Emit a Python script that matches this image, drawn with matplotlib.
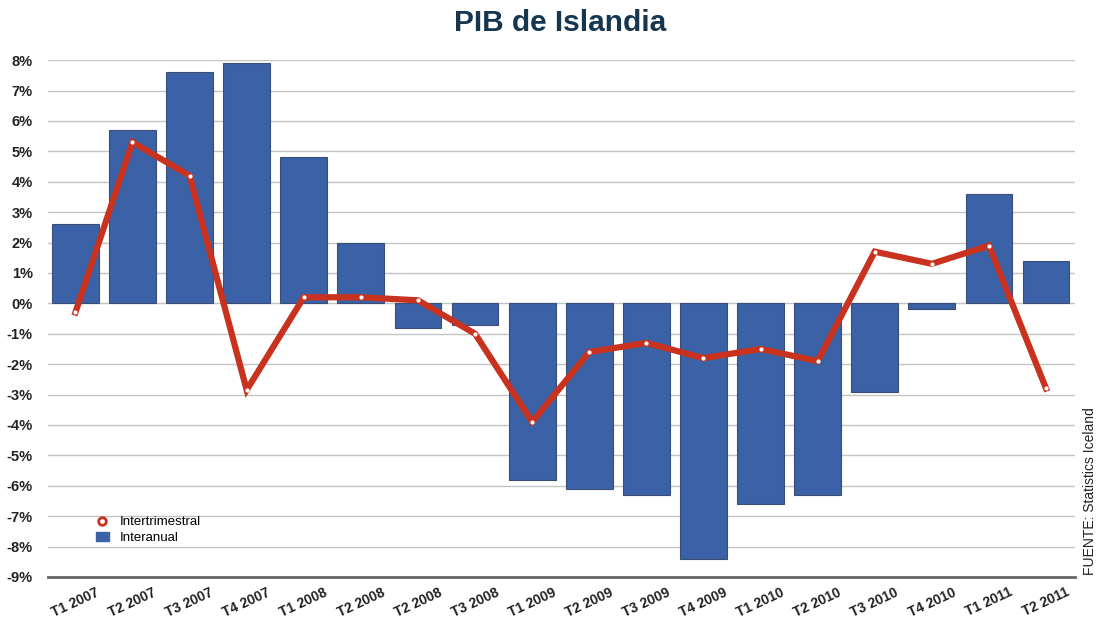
import numpy as np
import matplotlib.pyplot as plt
from matplotlib.lines import Line2D
from matplotlib.patches import Patch

plt.rcParams["font.family"] = ["Liberation Sans", "DejaVu Sans"]

# data
quarters = ["T1 2007", "T2 2007", "T3 2007", "T4 2007", "T1 2008", "T2 2008",
            "T2 2008", "T3 2008", "T1 2009", "T2 2009", "T3 2009", "T4 2009",
            "T1 2010", "T2 2010", "T3 2010", "T4 2010", "T1 2011", "T2 2011"]
interanual = [2.6, 5.7, 7.6, 7.9, 4.8, 2.0, -0.8, -0.7, -5.8, -6.1, -6.3, -8.4,
              -6.6, -6.3, -2.9, -0.2, 3.6, 1.4]
intertrimestral = [-0.3, 5.3, 4.2, -2.85, 0.2, 0.2, 0.1, -1.0, -3.9, -1.6, -1.3, -1.8,
                   -1.5, -1.9, 1.7, 1.3, 1.9, -2.8]

bar_color = "#3b62a6"
line_color = "#c8321e"

fig = plt.figure(figsize=(10.98, 6.25), dpi=100)
ax = fig.add_axes([0.0437, 0.0768, 0.935, 0.827])

x = np.arange(len(quarters))
ax.bar(x, interanual, width=0.82, color=bar_color, edgecolor="#3a4e78", linewidth=0.8, zorder=2)
ax.plot(x, intertrimestral, color=line_color, linewidth=4.5, solid_joinstyle="miter", zorder=3)
ax.plot(x, intertrimestral, linestyle="none", marker="o", markersize=2,
        markerfacecolor="white", markeredgecolor="white", zorder=4)

ax.set_xlim(-0.48, len(quarters) - 0.5)
ax.set_ylim(-9, 8)
yt = np.arange(-9, 9)
ax.set_yticks(yt)
ax.set_yticklabels([f"{v}%" for v in yt], fontsize=10.5, fontweight="bold", color="#222222")
ax.set_xticks(x)
ax.set_xticklabels(quarters, rotation=25, ha="center",
                   fontsize=10, fontweight="bold", color="#222222")
ax.tick_params(axis="both", length=0)
ax.tick_params(axis="y", pad=11)
ax.tick_params(axis="x", pad=6)
ax.grid(axis="y", color="#c4c4c4", linewidth=1.0, zorder=0)
for s in ["top", "right", "left"]:
    ax.spines[s].set_visible(False)
ax.spines["bottom"].set_color("#666666")
ax.spines["bottom"].set_linewidth(2)

handles = [Line2D([], [], linestyle="none", marker="o", markersize=5.5,
                  markerfacecolor="white", markeredgecolor=line_color, markeredgewidth=2),
           Patch(facecolor=bar_color, edgecolor=bar_color)]
ax.legend(handles, ["Intertrimestral", "Interanual"], loc="lower left",
          bbox_to_anchor=(0.035, 0.04), frameon=False, fontsize=9.5,
          handlelength=1.0, handletextpad=0.8, labelspacing=0.3)

fig.text(0.51, 0.963, "PIB de Islandia", ha="center", va="center",
         fontsize=21.5, fontweight="bold", color="#163650")
fig.text(0.999, 0.08, "FUENTE: Statistics Iceland", rotation=90, ha="right", va="bottom",
         fontsize=10, color="#222222")

fig.savefig("out.png", dpi=100)
